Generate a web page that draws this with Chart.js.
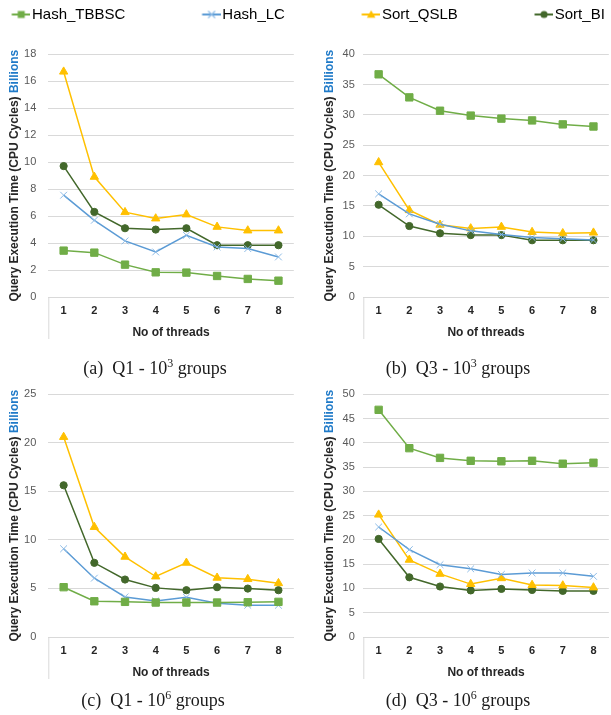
<!DOCTYPE html>
<html lang="en">
<head>
<meta charset="UTF-8">
<title>Query execution time vs number of threads</title>
<script src="https://cdn.jsdelivr.net/npm/chart.js@4"></script>
<style>
  body { margin: 0; width: 611px; height: 715px; overflow: hidden; background: #fff; position: relative; }
  canvas { position: absolute; }
  .cap { position: absolute; font-family: "Liberation Serif", "DejaVu Serif", serif; font-size: 18px; line-height: 18px;
         color: #1a1a1a; white-space: nowrap; transform: translateX(-50%); }
  .cap sup { font-size: 12px; line-height: 0; vertical-align: 0; position: relative; top: -0.6em; }
</style>
</head>
<body>
<canvas id="legend" width="700" height="80" style="left:-65.5px; top:2px;"></canvas>
<canvas id="chartA" width="300" height="320" style="left:0px; top:30px;"></canvas>
<canvas id="chartB" width="304" height="320" style="left:311px; top:30px;"></canvas>
<canvas id="chartC" width="300" height="320" style="left:0px; top:370px;"></canvas>
<canvas id="chartD" width="304" height="320" style="left:311px; top:370px;"></canvas>
<div class="cap" style="left:155px; top:359px;">(a)&nbsp;&nbsp;Q1 - 10<sup>3</sup> groups</div>
<div class="cap" style="left:458px; top:359px;">(b)&nbsp;&nbsp;Q3 - 10<sup>3</sup> groups</div>
<div class="cap" style="left:153px; top:691px;">(c)&nbsp;&nbsp;Q1 - 10<sup>6</sup> groups</div>
<div class="cap" style="left:458px; top:691px;">(d)&nbsp;&nbsp;Q3 - 10<sup>6</sup> groups</div>

<script>
// data (values in billions of CPU cycles)
const threads = ['1', '2', '3', '4', '5', '6', '7', '8'];
const seriesNames = ['Hash_TBBSC', 'Hash_LC', 'Sort_QSLB', 'Sort_BI'];

// (a) Q1 - 10^3 groups
const q1g3_hashTBBSC = [3.44, 3.29, 2.40, 1.83, 1.81, 1.56, 1.34, 1.21];
const q1g3_hashLC    = [7.55, 5.69, 4.16, 3.34, 4.58, 3.71, 3.59, 2.97];
const q1g3_sortQSLB  = [16.71, 8.91, 6.29, 5.82, 6.12, 5.20, 4.93, 4.93];
const q1g3_sortBI    = [9.71, 6.31, 5.10, 5.00, 5.10, 3.84, 3.84, 3.84];

// (b) Q3 - 10^3 groups
const q3g3_hashTBBSC = [36.7, 32.9, 30.7, 29.9, 29.4, 29.1, 28.45, 28.1];
const q3g3_hashLC    = [17.0, 13.7, 12.0, 10.9, 10.3, 9.8, 9.6, 9.4];
const q3g3_sortQSLB  = [22.2, 14.3, 11.9, 11.3, 11.55, 10.7, 10.5, 10.6];
const q3g3_sortBI    = [15.2, 11.7, 10.5, 10.2, 10.2, 9.35, 9.35, 9.35];

// (c) Q1 - 10^6 groups
const q1g6_hashTBBSC = [5.13, 3.68, 3.62, 3.55, 3.55, 3.55, 3.58, 3.62];
const q1g6_hashLC    = [9.09, 6.06, 4.13, 3.72, 4.10, 3.48, 3.27, 3.27];
const q1g6_sortQSLB  = [20.6, 11.33, 8.26, 6.23, 7.64, 6.10, 5.96, 5.54];
const q1g6_sortBI    = [15.63, 7.64, 5.92, 5.06, 4.82, 5.13, 4.99, 4.82];

// (d) Q3 - 10^6 groups
const q3g6_hashTBBSC = [46.8, 38.9, 36.9, 36.3, 36.2, 36.3, 35.7, 35.9];
const q3g6_hashLC    = [22.66, 18.0, 14.9, 14.05, 12.9, 13.2, 13.2, 12.5];
const q3g6_sortQSLB  = [25.2, 15.9, 13.0, 10.9, 12.1, 10.7, 10.6, 10.2];
const q3g6_sortBI    = [20.2, 12.3, 10.4, 9.6, 9.9, 9.7, 9.5, 9.5];

// y axis ranges (max, step)
const yMaxA = 18, yStepA = 2;
const yMaxB = 40, yStepB = 5;
const yMaxC = 25, yStepC = 5;
const yMaxD = 50, yStepD = 5;

// styling
const lineColors   = ['#70ad47', '#5b9bd5', '#ffc000', '#43682b'];
const markerColors = ['#70ad47', '#8dbbe6', '#ffc000', '#43682b'];
const markerStyles = ['rect', 'crossRot', 'triangle', 'circle'];
const markerSizes  = [5.2, 4.8, 4.8, 3.6];

Chart.defaults.font.family = '"Liberation Sans", Arial, sans-serif';
Chart.defaults.animation = false;

// y title has two colours, so it is drawn by hand
const yTitlePlugin = {
  id: 'yTitle',
  afterDraw(chart) {
    const { ctx, chartArea } = chart;
    const a = 'Query Execution Time (CPU Cycles) ';
    const b = 'Billions';
    ctx.save();
    ctx.translate(chartArea.left - 34, (chartArea.top + chartArea.bottom) / 2);
    ctx.rotate(-Math.PI / 2);
    ctx.font = 'bold 12px "Liberation Sans", Arial, sans-serif';
    ctx.textBaseline = 'middle';
    ctx.textAlign = 'left';
    const wa = ctx.measureText(a).width;
    const wb = ctx.measureText(b).width;
    const x0 = -(wa + wb) / 2;
    ctx.fillStyle = '#262626';
    ctx.fillText(a, x0, 0);
    ctx.fillStyle = '#1f7ac8';
    ctx.fillText(b, x0 + wa, 0);
    ctx.restore();
  }
};

// the short line under the left end of the x axis
const leftEdgePlugin = {
  id: 'leftEdge',
  afterDraw(chart) {
    const { ctx, chartArea } = chart;
    ctx.save();
    ctx.strokeStyle = '#d9d9d9';
    ctx.lineWidth = 1;
    ctx.beginPath();
    ctx.moveTo(chartArea.left + 0.5, chartArea.bottom);
    ctx.lineTo(chartArea.left + 0.5, chartArea.bottom + 42);
    ctx.stroke();
    ctx.restore();
  }
};

function makeDatasets(values) {
  return values.map((v, i) => ({
    label: seriesNames[i],
    data: v,
    borderColor: lineColors[i],
    backgroundColor: lineColors[i],
    borderWidth: 1.5,
    tension: 0,
    pointStyle: markerStyles[i],
    pointRadius: markerSizes[i],
    pointBackgroundColor: markerColors[i],
    pointBorderColor: markerColors[i],
    pointBorderWidth: 1
  }));
}

function makeChart(id, values, yMax, yStep, axisWidth, tickPad) {
  new Chart(document.getElementById(id), {
    type: 'line',
    data: { labels: threads, datasets: makeDatasets(values) },
    options: {
      responsive: false,
      layout: { padding: { top: 24.3, left: 0, right: 0, bottom: 0 } },
      plugins: { legend: { display: false }, tooltip: { enabled: false } },
      scales: {
        x: {
          offset: true,
          grid: { display: false, drawTicks: false },
          border: { display: true, color: '#d9d9d9', width: 1 },
          ticks: { color: '#262626', font: { size: 11, weight: 'bold' }, padding: 7 },
          title: {
            display: true, text: 'No of threads', color: '#262626',
            font: { size: 12, weight: 'bold' }, padding: { top: 0, bottom: 10 }
          },
          afterFit(s) { s.height = 53; }
        },
        y: {
          min: 0,
          max: yMax,
          ticks: { stepSize: yStep, color: '#595959', font: { size: 11 }, padding: tickPad },
          grid: { color: '#d9d9d9', drawTicks: false },
          border: { display: false },
          afterFit(s) { s.width = axisWidth; }
        }
      }
    },
    plugins: [yTitlePlugin, leftEdgePlugin]
  });
}

makeChart('chartA', [q1g3_hashTBBSC, q1g3_hashLC, q1g3_sortQSLB, q1g3_sortBI], yMaxA, yStepA, 48.3, 12);
makeChart('chartB', [q3g3_hashTBBSC, q3g3_hashLC, q3g3_sortQSLB, q3g3_sortBI], yMaxB, yStepB, 52.3, 8.5);
makeChart('chartC', [q1g6_hashTBBSC, q1g6_hashLC, q1g6_sortQSLB, q1g6_sortBI], yMaxC, yStepC, 48.3, 12);
makeChart('chartD', [q3g6_hashTBBSC, q3g6_hashLC, q3g6_sortQSLB, q3g6_sortBI], yMaxD, yStepD, 52.3, 8.5);

// legend: line + marker icon, wide transparent lead-in used as spacing
const iconLead = 84.5;
function legendIcon(i) {
  const w = iconLead + 12;
  const c = document.createElement('canvas');
  c.width = w; c.height = 12;
  const g = c.getContext('2d');
  const x1 = w - 19, x2 = w, cx = w - 9.5, cy = 6;
  g.strokeStyle = lineColors[i];
  g.lineWidth = 2;
  g.beginPath(); g.moveTo(x1, cy); g.lineTo(x2, cy); g.stroke();
  g.fillStyle = markerColors[i];
  g.strokeStyle = markerColors[i];
  g.lineWidth = 1.2;
  g.beginPath();
  if (markerStyles[i] === 'rect') {
    g.fillRect(cx - 3.5, cy - 3.5, 7, 7);
  } else if (markerStyles[i] === 'crossRot') {
    g.moveTo(cx - 3.5, cy - 3.5); g.lineTo(cx + 3.5, cy + 3.5);
    g.moveTo(cx + 3.5, cy - 3.5); g.lineTo(cx - 3.5, cy + 3.5);
    g.stroke();
  } else if (markerStyles[i] === 'triangle') {
    g.moveTo(cx, cy - 4.2); g.lineTo(cx + 4.3, cy + 3.3); g.lineTo(cx - 4.3, cy + 3.3);
    g.closePath(); g.fill();
  } else {
    g.arc(cx, cy, 3.6, 0, Math.PI * 2); g.fill();
  }
  return c;
}

new Chart(document.getElementById('legend'), {
  type: 'line',
  data: { labels: [], datasets: makeDatasets([[], [], [], []]) },
  options: {
    responsive: false,
    layout: { padding: 0 },
    scales: { x: { display: false }, y: { display: false } },
    plugins: {
      tooltip: { enabled: false },
      legend: {
        display: true,
        position: 'top',
        align: 'start',
        labels: {
          usePointStyle: true,
          pointStyleWidth: iconLead,
          padding: 5,
          color: '#1a1a1a',
          font: { size: 15 },
          generateLabels(chart) {
            return seriesNames.map((name, i) => ({
              text: name,
              fillStyle: lineColors[i],
              strokeStyle: lineColors[i],
              lineWidth: 1,
              pointStyle: legendIcon(i),
              hidden: false,
              datasetIndex: i
            }));
          }
        }
      }
    }
  }
});
</script>
</body>
</html>
